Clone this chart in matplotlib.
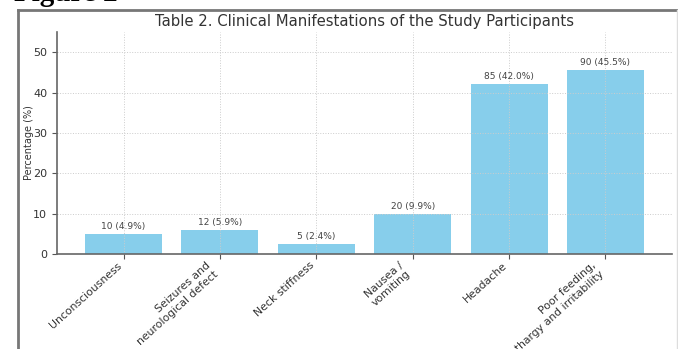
import matplotlib.pyplot as plt
from matplotlib.lines import Line2D

symptoms = [
    "Unconsciousness",
    "Seizures and\nneurological defect",
    "Neck stiffness",
    "Nausea /\nvomiting",
    "Headache",
    "Poor feeding,\nlethargy and irritability",
]
counts = [10, 12, 5, 20, 85, 90]
percents = [4.9, 5.9, 2.4, 9.9, 42.0, 45.5]

W, H = 678, 349
fig = plt.figure(figsize=(W / 100, H / 100), dpi=100)

# page frame and caption around the chart
fig.add_artist(Line2D([17.5 / W, 17.5 / W], [0, 1 - 10 / H], color="#777777", lw=2))
fig.add_artist(Line2D([17.5 / W, 1], [1 - 10 / H, 1 - 10 / H], color="#777777", lw=2))
fig.add_artist(Line2D([676.5 / W, 676.5 / W], [0, 1 - 10 / H], color="#dddddd", lw=1))
fig.text(14 / W, 1 - 1 / H, "Figure 2", family="Liberation Serif", weight="bold",
         fontsize=21, va="baseline", ha="left")

ax = fig.add_axes([57 / W, 1 - 254 / H, 615 / W, 222 / H])
x = range(len(symptoms))
bars = ax.bar(x, percents, width=0.8, color="skyblue")
for b, n, p in zip(bars, counts, percents):
    ax.text(b.get_x() + b.get_width() / 2, p + 0.8, f"{n} ({p:.1f}%)",
            ha="center", va="bottom", fontsize=6.5, color="#444444")

ax.set_ylim(0, 55)
ax.set_yticks([0, 10, 20, 30, 40, 50])
ax.set_xticks(list(x))
ax.set_xticklabels(symptoms, rotation=42, ha="right", fontsize=7.8, color="#333333")
ax.tick_params(axis="y", labelsize=8, labelcolor="#333333", color="#555555")
ax.tick_params(axis="x", color="#555555", pad=1)
ax.set_ylabel("Percentage (%)", fontsize=7, color="#333333")
ax.yaxis.set_label_coords(-0.038, 0.5)
ax.set_title("Table 2. Clinical Manifestations of the Study Participants",
             fontsize=10.7, color="#333333", pad=4)
ax.grid(True, linestyle=":", color="#cccccc", linewidth=0.7)
for side in ["top", "right"]:
    ax.spines[side].set_visible(False)
for side in ["left", "bottom"]:
    ax.spines[side].set_color("#666666")
    ax.spines[side].set_linewidth(1.2)

fig.savefig("out.png", dpi=100)
